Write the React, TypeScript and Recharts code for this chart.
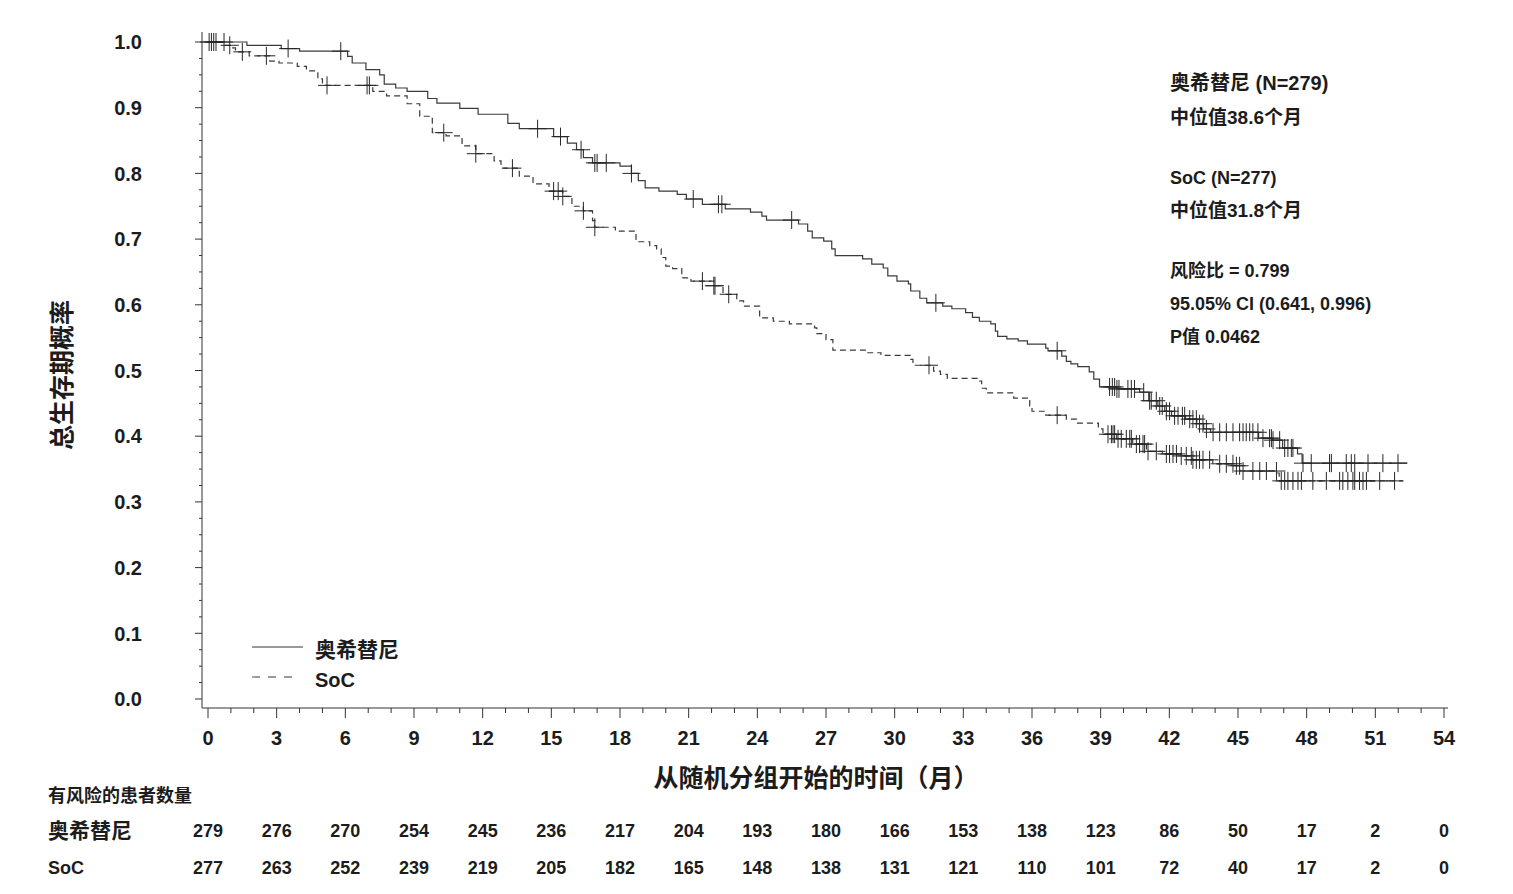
import React from "react";
import { ComposedChart, Line, Scatter, XAxis, YAxis } from "recharts";

const FONT = "'Liberation Sans', Arial, 'Noto Sans CJK SC', sans-serif";
const INK = "#1c1c1c";
const AXIS = "#333333";
const CURVE = "#3a3a3a";

// months shown on the x axis / risk table columns
const MONTHS = [0, 3, 6, 9, 12, 15, 18, 21, 24, 27, 30, 33, 36, 39, 42, 45, 48, 51, 54];
const RISK_OSI = [279, 276, 270, 254, 245, 236, 217, 204, 193, 180, 166, 153, 138, 123, 86, 50, 17, 2, 0];
const RISK_SOC = [277, 263, 252, 239, 219, 205, 182, 165, 148, 138, 131, 121, 110, 101, 72, 40, 17, 2, 0];
const Y_LABELS = [0, 0.1, 0.2, 0.3, 0.4, 0.5, 0.6, 0.7, 0.8, 0.9, 1.0];

// Kaplan-Meier step curves: event times (months) and survival after each step
const OSI_TIME = [0, 1.7, 3.2, 4.0, 6.1, 6.3, 6.9, 7.5, 7.7, 8.2, 8.7, 9.6, 10.0, 11.0, 11.8, 13.1, 13.6, 15.1, 15.7, 16.1, 16.4, 16.8, 18.0, 18.5, 18.8, 19.1, 19.7, 20.5, 20.9, 21.6, 22.6, 23.7, 24.2, 24.4, 25.8, 26.2, 26.4, 26.9, 27.25, 27.4, 28.6, 29.0, 29.5, 29.7, 30.1, 30.6, 30.7, 31.1, 31.4, 32.1, 32.5, 33.1, 33.4, 33.7, 34.2, 34.4, 34.5, 34.9, 35.4, 35.8, 36.6, 36.7, 37.3, 37.5, 37.7, 38.0, 38.5, 38.7, 38.95, 39.7, 40.7, 41.1, 41.5, 41.8, 42.1, 42.7, 43.2, 43.5, 43.8, 45.9, 46.5, 46.95, 47.6, 47.8];
const OSI_SURV = [1, 0.995, 0.99, 0.986, 0.978, 0.968, 0.958, 0.95, 0.936, 0.93, 0.925, 0.914, 0.907, 0.899, 0.89, 0.876, 0.868, 0.856, 0.846, 0.836, 0.824, 0.816, 0.811, 0.8, 0.789, 0.778, 0.773, 0.768, 0.761, 0.753, 0.746, 0.741, 0.735, 0.729, 0.723, 0.712, 0.702, 0.697, 0.685, 0.675, 0.67, 0.662, 0.656, 0.644, 0.636, 0.632, 0.621, 0.61, 0.603, 0.598, 0.594, 0.588, 0.581, 0.575, 0.571, 0.56, 0.552, 0.548, 0.545, 0.54, 0.534, 0.53, 0.522, 0.514, 0.51, 0.506, 0.498, 0.487, 0.475, 0.472, 0.467, 0.454, 0.446, 0.438, 0.431, 0.426, 0.419, 0.411, 0.406, 0.397, 0.394, 0.382, 0.373, 0.359];
const OSI_END = 52.4;

const SOC_TIME = [0, 0.65, 1.0, 1.2, 1.8, 2.7, 3.1, 3.9, 4.3, 4.8, 5.0, 7.2, 7.8, 8.7, 9.25, 9.8, 10.4, 11.1, 11.7, 12.5, 12.8, 13.6, 14.2, 14.9, 15.5, 15.9, 16.4, 16.8, 16.9, 17.8, 18.7, 19.3, 19.6, 19.8, 20.0, 20.3, 20.7, 21.1, 22.1, 22.5, 23.1, 23.4, 24.1, 24.7, 25.4, 26.5, 26.6, 27.0, 27.3, 28.8, 29.4, 30.7, 30.8, 31.7, 32.0, 32.3, 33.6, 33.8, 34.0, 35.2, 35.8, 35.9, 36.0, 36.6, 37.5, 37.95, 38.9, 39.1, 39.7, 40.4, 41.0, 41.7, 42.5, 43.0, 43.9, 44.8, 45.1, 46.7, 46.8];
const SOC_SURV = [1, 0.995, 0.991, 0.985, 0.979, 0.971, 0.968, 0.963, 0.956, 0.944, 0.934, 0.925, 0.918, 0.906, 0.887, 0.862, 0.857, 0.842, 0.83, 0.819, 0.808, 0.796, 0.784, 0.773, 0.765, 0.75, 0.743, 0.728, 0.718, 0.712, 0.696, 0.69, 0.685, 0.672, 0.659, 0.655, 0.641, 0.636, 0.629, 0.616, 0.606, 0.598, 0.58, 0.575, 0.571, 0.565, 0.556, 0.547, 0.531, 0.527, 0.523, 0.517, 0.508, 0.499, 0.494, 0.488, 0.484, 0.473, 0.466, 0.458, 0.454, 0.446, 0.438, 0.432, 0.426, 0.42, 0.411, 0.403, 0.396, 0.388, 0.377, 0.373, 0.37, 0.364, 0.358, 0.355, 0.347, 0.344, 0.332];
const SOC_END = 52.2;

// censored observations (months)
const OSI_CENSOR = [0.05, 0.15, 0.25, 0.35, 0.7, 3.5, 5.8, 14.4, 15.4, 16.3, 16.9, 17.0, 17.4, 18.5, 21.2, 22.3, 22.45, 25.5, 31.8, 37.1, 39.39, 39.51, 39.61, 39.71, 39.8, 40.19, 40.34, 40.48, 40.88, 41.14, 41.21, 41.43, 41.58, 41.69, 41.87, 42.01, 42.23, 42.38, 42.57, 42.67, 42.89, 43.03, 43.18, 43.32, 43.47, 43.62, 43.91, 44.2, 44.49, 44.78, 45.07, 45.22, 45.36, 45.51, 45.65, 45.87, 46.09, 46.38, 46.46, 46.53, 46.82, 47.04, 47.18, 47.33, 47.4, 47.84, 48.2, 49.0, 49.08, 49.73, 49.95, 50.1, 50.68, 51.33, 51.99];
const SOC_CENSOR = [0.95, 1.5, 2.55, 5.2, 6.95, 7.05, 10.3, 11.7, 13.3, 15.1, 15.3, 15.5, 16.4, 16.9, 21.6, 22.1, 22.15, 22.75, 31.5, 37.1, 39.32, 39.47, 39.54, 39.61, 39.76, 39.9, 40.12, 40.27, 40.34, 40.56, 40.7, 40.85, 40.92, 41.07, 41.43, 41.87, 42.01, 42.16, 42.31, 42.52, 42.74, 42.96, 43.03, 43.18, 43.32, 43.47, 43.76, 44.2, 44.49, 44.78, 44.93, 45.07, 45.22, 45.65, 45.95, 46.24, 46.68, 46.89, 47.04, 47.18, 47.4, 47.62, 47.77, 48.27, 48.86, 49.44, 49.58, 49.8, 50.02, 50.1, 50.31, 50.46, 50.61, 51.19, 51.84];

const X_TICKS = Array.from({ length: 55 }, (_, i) => i);
const Y_TICKS = Array.from({ length: 41 }, (_, i) => i / 40);

const survAt = (times: number[], surv: number[], t: number) => {
  let s = surv[0];
  for (let i = 0; i < times.length; i++) if (times[i] <= t) s = surv[i];
  return s;
};

const stepData = (times: number[], surv: number[], end: number) => [
  ...times.map((t, i) => ({ t, s: surv[i] })),
  { t: end, s: surv[surv.length - 1] },
];

const censorData = (times: number[], surv: number[], cens: number[]) =>
  cens.map((t) => ({ t, s: survAt(times, surv, t) }));

const osiLine = stepData(OSI_TIME, OSI_SURV, OSI_END);
const socLine = stepData(SOC_TIME, SOC_SURV, SOC_END);
const osiCens = censorData(OSI_TIME, OSI_SURV, OSI_CENSOR);
const socCens = censorData(SOC_TIME, SOC_SURV, SOC_CENSOR);

const Y_TICK_SIZE = 6;
const X_TICK_SIZE = 10;

function CensorMark(props: any) {
  const { cx, cy } = props;
  if (cx == null || cy == null) return <g />;
  return (
    <g stroke="#262626" strokeWidth={1}>
      <line x1={cx - 9} x2={cx + 9} y1={cy} y2={cy} />
      <line x1={cx} x2={cx} y1={cy - 9} y2={cy + 9} />
    </g>
  );
}

function YTick(props: any) {
  const { x, y, payload } = props;
  const axisX = x + Y_TICK_SIZE;
  const v = payload.value as number;
  const major = Math.abs(v * 10 - Math.round(v * 10)) < 1e-6;
  return (
    <g>
      <line x1={axisX - (major ? 7 : 3)} x2={axisX} y1={y} y2={y} stroke={AXIS} />
      {major && (
        <text x={axisX - 60} y={y} dy="0.36em" textAnchor="end" fill={INK}
          style={{ fontFamily: FONT, fontSize: 20, fontWeight: 700 }}>
          {Y_LABELS[Math.round(v * 10)].toFixed(1)}
        </text>
      )}
    </g>
  );
}

function XTick(props: any) {
  const { x, y, payload } = props;
  const axisY = y - X_TICK_SIZE;
  const v = payload.value as number;
  const idx = MONTHS.indexOf(v);
  const major = idx >= 0;
  const txt = { fontFamily: FONT, fontWeight: 700 } as const;
  return (
    <g>
      <line x1={x} x2={x} y1={axisY} y2={axisY + (major ? 10 : 5)} stroke={AXIS} />
      {major && (
        <>
          <text x={x} y={axisY + 37} textAnchor="middle" fill={INK} style={{ ...txt, fontSize: 20 }}>
            {v}
          </text>
          <text x={x} y={axisY + 129} textAnchor="middle" fill={INK} style={{ ...txt, fontSize: 18 }}>
            {RISK_OSI[idx]}
          </text>
          <text x={x} y={axisY + 166} textAnchor="middle" fill={INK} style={{ ...txt, fontSize: 18 }}>
            {RISK_SOC[idx]}
          </text>
        </>
      )}
    </g>
  );
}

const NOTES: [string, number, number][] = [
  ["奥希替尼 (N=279)", 90, 20],
  ["中位值38.6个月", 124, 19],
  ["SoC (N=277)", 184, 18],
  ["中位值31.8个月", 217, 19],
  ["风险比 = 0.799", 277, 18],
  ["95.05% CI (0.641, 0.996)", 310, 18],
  ["P值 0.0462", 343, 18],
];

export default function App() {
  const bold = { fontFamily: FONT, fontWeight: 700 } as const;
  return (
    <div style={{ position: "absolute", left: 0, top: 0, width: 1513, height: 894, background: "#fff" }}>
      <ComposedChart
        width={1513}
        height={894}
        margin={{ top: 32, right: 65, bottom: 156, left: 0 }}
      >
        <XAxis
          dataKey="t"
          type="number"
          domain={[0, 54]}
          ticks={X_TICKS}
          interval={0}
          padding={{ left: 6, right: 4 }}
          height={30}
          tickSize={X_TICK_SIZE}
          tickMargin={0}
          tickLine={false}
          axisLine={{ stroke: AXIS }}
          tick={XTick}
        />
        <YAxis
          dataKey="s"
          type="number"
          domain={[0, 1]}
          ticks={Y_TICKS}
          interval={0}
          padding={{ top: 10, bottom: 9 }}
          width={202}
          tickSize={Y_TICK_SIZE}
          tickMargin={0}
          tickLine={false}
          axisLine={{ stroke: AXIS }}
          tick={YTick}
        />
        <Line data={osiLine} dataKey="s" type="stepAfter" stroke={CURVE} strokeWidth={1.2}
          dot={false} activeDot={false} isAnimationActive={false} />
        <Line data={socLine} dataKey="s" type="stepAfter" stroke={CURVE} strokeWidth={1.2}
          strokeDasharray="6 4" dot={false} activeDot={false} isAnimationActive={false} />
        <Scatter data={osiCens} dataKey="s" shape={CensorMark} isAnimationActive={false} />
        <Scatter data={socCens} dataKey="s" shape={CensorMark} isAnimationActive={false} />
      </ComposedChart>

      <svg width={1513} height={894} style={{ position: "absolute", left: 0, top: 0, pointerEvents: "none" }}>
        {NOTES.map(([label, y, size]) => (
          <text key={label} x={1170} y={y} fill={INK} style={{ ...bold, fontSize: size }}>
            {label}
          </text>
        ))}

        <line x1={252} x2={303} y1={647} y2={647} stroke="#777" strokeWidth={1.3} />
        <line x1={252} x2={300} y1={677} y2={677} stroke="#777" strokeWidth={1.3} strokeDasharray="8 8" />
        <text x={315} y={657} fill={INK} style={{ ...bold, fontSize: 21 }}>奥希替尼</text>
        <text x={315} y={687} fill={INK} style={{ ...bold, fontSize: 20 }}>SoC</text>

        <text x={62} y={375} transform="rotate(-90 62 375)" textAnchor="middle" dy="0.36em"
          fill={INK} style={{ ...bold, fontSize: 25 }}>
          总生存期概率
        </text>
        <text x={816} y={787} textAnchor="middle" fill={INK} style={{ ...bold, fontSize: 25 }}>
          从随机分组开始的时间（月）
        </text>

        <text x={48} y={802} fill={INK} style={{ ...bold, fontSize: 18 }}>有风险的患者数量</text>
        <text x={48} y={838} fill={INK} style={{ ...bold, fontSize: 21 }}>奥希替尼</text>
        <text x={48} y={874} fill={INK} style={{ ...bold, fontSize: 18 }}>SoC</text>
      </svg>
    </div>
  );
}
